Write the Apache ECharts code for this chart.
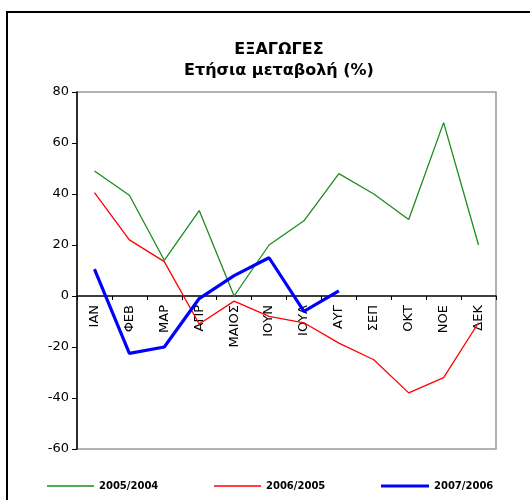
<!DOCTYPE html>
<html>
<head>
<meta charset="utf-8">
<script src="https://cdn.jsdelivr.net/npm/echarts@6/dist/echarts.min.js"></script>
<style>
html,body{margin:0;padding:0;background:#fff;}
#chart{width:530px;height:500px;}
</style>
</head>
<body>
<div id="chart"></div>
<script>
const months = ['ΙΑΝ','ΦΕΒ','ΜΑΡ','ΑΠΡ','ΜΑΙΟΣ','ΙΟΥΝ','ΙΟΥΛ','ΑΥΓ','ΣΕΠ','ΟΚΤ','ΝΟΕ','ΔΕΚ'];
const s2005 = [49, 39.5, 14, 33.5, 0, 20, 29.5, 48, 40, 30, 68, 20];
const s2006 = [40.5, 22, 13.5, -11, -2, -8, -10.5, -18.5, -25, -38, -32, -10.5];
const s2007 = [10.5, -22.5, -20, -1, 8, 15, -6, 2];
const seriesNames = ['2005/2004','2006/2005','2007/2006'];
const yTicks = {min:-60, max:80, interval:20};

const gridTop = 92, gridBottomPx = 449;
const gridH = gridBottomPx - gridTop;
const zeroOffset = -gridH * (0 - yTicks.min) / (yTicks.max - yTicks.min);

const chart = echarts.init(document.getElementById('chart'));
const font = 'DejaVu Sans';
const legendText = {fontFamily:font, fontSize:10, fontWeight:'bold', color:'#000'};
chart.setOption({
  animation:false,
  backgroundColor:'#fff',
  title:{
    text:'ΕΞΑΓΩΓΕΣ\nΕτήσια μεταβολή (%)',
    left:274, top:34, textAlign:'center',
    textStyle:{fontFamily:font, fontSize:16, fontWeight:'bold', color:'#000', lineHeight:21}
  },
  graphic:[{type:'rect', shape:{x:7, y:12, width:540, height:500}, style:{fill:'none', stroke:'#000', lineWidth:2}, silent:true, z:-1}],
  grid:{left:77, top:gridTop, right:34, bottom:500 - gridBottomPx, show:true, borderColor:'#999', borderWidth:1.5, backgroundColor:'#fff'},
  legend:[
    {data:[seriesNames[0]], left:42, top:476, icon:'rect', itemWidth:47, itemHeight:1.5, itemGap:5, textStyle:legendText},
    {data:[seriesNames[1]], left:209, top:476, icon:'rect', itemWidth:47, itemHeight:1.5, itemGap:5, textStyle:legendText},
    {data:[seriesNames[2]], left:376, top:476, icon:'rect', itemWidth:48, itemHeight:3, itemGap:5, textStyle:legendText}
  ],
  xAxis:{
    type:'category', data:months, boundaryGap:true, position:'bottom', offset:zeroOffset,
    axisLine:{onZero:false, lineStyle:{color:'#000', width:1.5}},
    axisTick:{show:true, inside:false, length:4, lineStyle:{color:'#000'}},
    axisLabel:{rotate:90, margin:9, fontFamily:font, fontSize:13, color:'#000', interval:0},
    splitLine:{show:false}
  },
  yAxis:{
    type:'value', min:yTicks.min, max:yTicks.max, interval:yTicks.interval,
    axisLine:{show:true, lineStyle:{color:'#000', width:1.5}},
    axisTick:{show:true, length:5, lineStyle:{color:'#000'}},
    axisLabel:{fontFamily:font, fontSize:13, color:'#000', margin:8},
    splitLine:{show:false}
  },
  series:[
    {name:seriesNames[0], type:'line', data:s2005, symbol:'none', lineStyle:{color:'#1c8c1c', width:1.3}, itemStyle:{color:'#1c8c1c'}},
    {name:seriesNames[1], type:'line', data:s2006, symbol:'none', lineStyle:{color:'#ff0000', width:1.3}, itemStyle:{color:'#ff0000'}},
    {name:seriesNames[2], type:'line', data:s2007, symbol:'none', lineStyle:{color:'#0000ff', width:3.2}, itemStyle:{color:'#0000ff'}}
  ]
});
</script>
</body>
</html>
